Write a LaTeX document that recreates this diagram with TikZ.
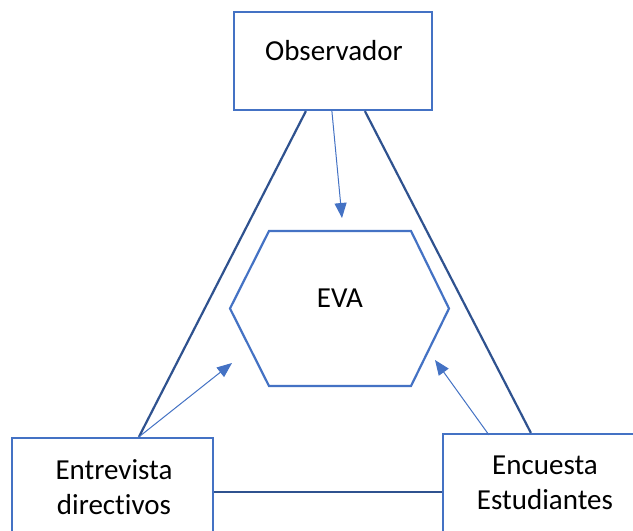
\documentclass[tikz,border=0pt]{standalone}
\usepackage{fontspec}
\setmainfont{Carlito}[Ligatures={NoCommon}]
\usetikzlibrary{arrows.meta,calc}
\definecolor{boxblue}{HTML}{4472C4}
\definecolor{darkblue}{HTML}{2F528F}
\begin{document}
\begin{tikzpicture}[x=1pt,y=-1pt,
  box/.style={draw=boxblue,line width=2.2pt,fill=white,inner sep=0pt},
  lbl/.style={font=\fontsize{29}{35}\selectfont,align=center,inner sep=0pt},
  tri/.style={draw=darkblue,line width=2.2pt},
  arr/.style={draw=boxblue,line width=1pt,-{Triangle[length=15pt,width=12pt]}}]
\useasboundingbox (0,0) rectangle (633,531);
\fill[white] (0,0) rectangle (633,531);
% boxes
\node[box,minimum width=198pt,minimum height=98pt] (obs) at (333,61) {};
\node[lbl] (obst) at (334,51) {Observador};
\node[box,minimum width=201pt,minimum height=130pt] (entbox) at (112.5,503) {};
\node[lbl] (ent) at (114,487) {Entrevista\\directivos};
\node[box,minimum width=210pt,minimum height=130pt] (encbox) at (548,499) {};
\node[lbl] (enc) at (545,483) {Encuesta\\Estudiantes};
% hexagon
\node[lbl] (eva) at (339.5,308.5) {};
\node[lbl] (evat) at (340,298) {EVA};
\draw[boxblue,line width=2.2pt]
  ([xshift=-70.5pt,yshift=77.5pt]eva.center) -- ([xshift=71.5pt,yshift=77.5pt]eva.center)
  -- ([xshift=109.5pt]eva.center) -- ([xshift=71.5pt,yshift=-77.5pt]eva.center)
  -- ([xshift=-70.5pt,yshift=-77.5pt]eva.center) -- ([xshift=-109.5pt]eva.center) -- cycle;
% triangle lines
\draw[tri] ([xshift=73pt]obs.south west) -- ([xshift=128pt]entbox.north west);
\draw[tri] ([xshift=132pt]obs.south west) -- ([xshift=89pt]encbox.north west);
\draw[tri] ([yshift=-55pt]entbox.north east) -- ([yshift=-55pt]entbox.north east -| encbox.west);
% arrows
\draw[arr] ([xshift=99pt]obs.south west) -- ([xshift=2.5pt,yshift=90.5pt]eva.center);
\draw[arr] ([xshift=128pt]entbox.north west) -- ([xshift=-107.5pt,yshift=-54.5pt]eva.center);
\draw[arr] ([xshift=47pt,yshift=-2pt]encbox.north west) -- ([xshift=95.5pt,yshift=-51.5pt]eva.center);
\end{tikzpicture}
\end{document}
